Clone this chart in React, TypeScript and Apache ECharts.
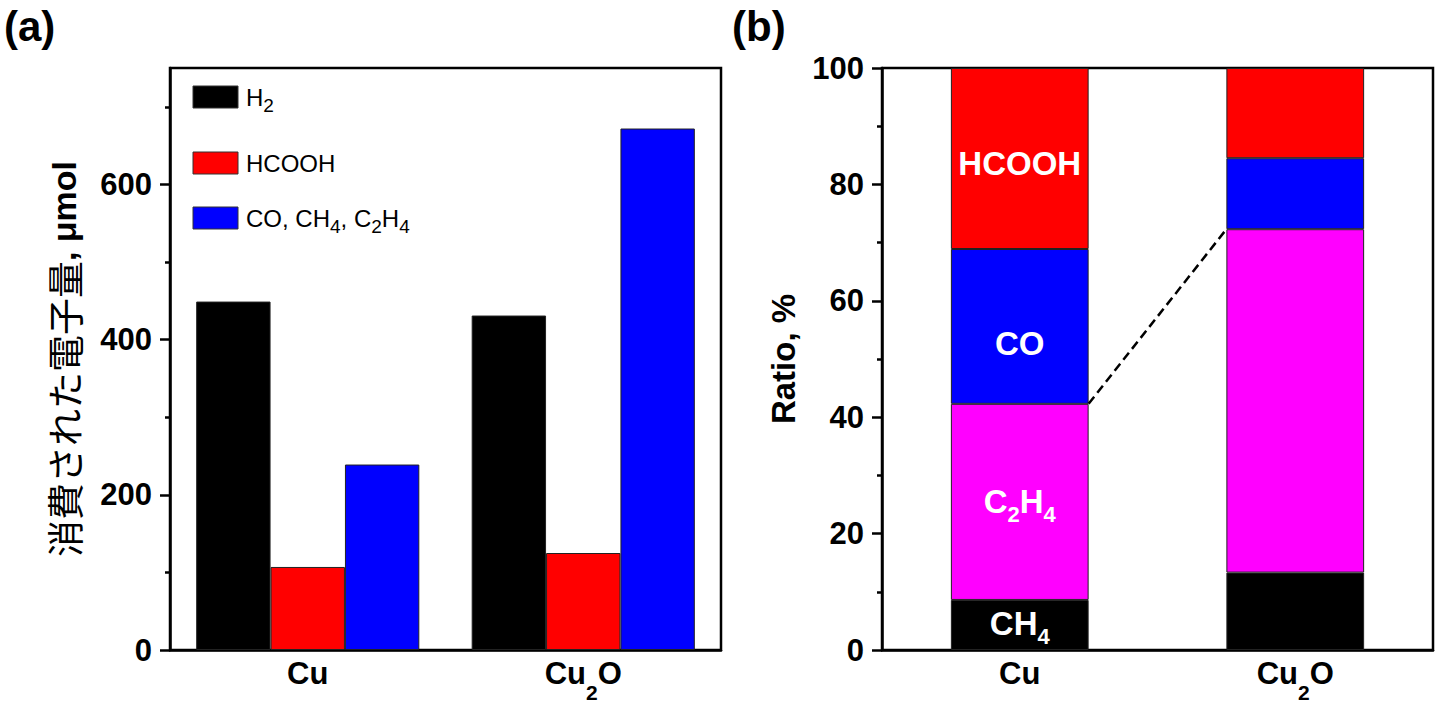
import { useRef, useEffect } from 'react'
import * as echarts from 'echarts'

// panel (a): consumed electrons, µmol
const categories = ['Cu', 'Cu2O']
const h2Values = [449, 431]
const hcoohValues = [107, 125]
const carbonValues = [239, 672]
const yMaxA = 750
const yMajorA = [0, 200, 400, 600]
const yMinorA = [100, 300, 500, 700]

// panel (b): product ratio, %
const ratioCH4 = [8.6, 13.3]
const ratioC2H4 = [33.7, 59.0]
const ratioCO = [26.6, 12.2]
const ratioHCOOH = [31.1, 15.5]
const cuLabels = ['{b|CH}{s|4}', '{b|C}{s|2}{b|H}{s|4}', '{b|CO}', '{b|HCOOH}']
const cuLabelOffsets = [[0, 2], [0, 3], [0, 18], [0, 6]]

const NUM_FONT = "'Liberation Sans', Arial, sans-serif"
const BLACK = '#000000'
const RED = '#ff0000'
const BLUE = '#0000ff'
const MAGENTA = '#ff00ff'
const AXIS_W = 2.5

// rich text with a lowered subscript: the main text sits at the top of the line,
// the subscript at the bottom of a taller line, `drop` px below the main centre
function subRich(main: number, sub: number, drop: number, color: string, weight: 'bold' | 'normal', colorKey: 'color' | 'fill') {
  const base = { fontWeight: weight, fontFamily: NUM_FONT, [colorKey]: color }
  return {
    b: { ...base, fontSize: main, lineHeight: main + 2, verticalAlign: 'top' },
    n: { ...base, fontSize: main, lineHeight: main + 2, verticalAlign: 'top' },
    s: { ...base, fontSize: sub, lineHeight: drop + (main + sub) / 2, verticalAlign: 'bottom' },
  }
}

function catLabel(v: string) {
  return v === 'Cu2O' ? '{b|Cu}{s|2}{b|O}' : '{b|Cu}'
}

function buildOption(): echarts.EChartsOption {
  const frame = { show: true, borderColor: BLACK, borderWidth: AXIS_W, backgroundColor: 'transparent' }
  const xCat = (gridIndex: number) => ({
    type: 'category' as const,
    gridIndex,
    data: categories,
    axisLine: { show: true, lineStyle: { color: BLACK, width: AXIS_W } },
    axisTick: { show: false },
    axisLabel: { margin: 8, formatter: catLabel, rich: subRich(31, 21, 19, BLACK, 'bold', 'color') },
  })
  const barBase = { type: 'bar' as const, itemStyle: { borderColor: '#222', borderWidth: 1 } }

  const cuTop = [ratioCH4, ratioC2H4, ratioCO, ratioHCOOH]
  const stackSeries = ['CH4', 'C2H4', 'CO', 'HCOOH'].map((name, i) => ({
    ...barBase,
    name,
    xAxisIndex: 1,
    yAxisIndex: 2,
    stack: 'ratio',
    barWidth: '50%',
    itemStyle: { ...barBase.itemStyle, color: [BLACK, MAGENTA, BLUE, RED][i] },
    label: { show: false, color: '#fff', rich: subRich(33, 22, 13, '#fff', 'bold', 'color') },
    data: cuTop[i].map((v, j) =>
      j === 0
        ? { value: v, label: { show: true, position: 'inside' as const, formatter: cuLabels[i], offset: cuLabelOffsets[i] } }
        : v,
    ),
  }))

  const cuC2H4Top = ratioCH4[0] + ratioC2H4[0]
  const cu2oC2H4Top = ratioCH4[1] + ratioC2H4[1]
  const legendRich = subRich(24, 19, 8, BLACK, 'normal', 'fill')

  return {
    animation: false,
    backgroundColor: '#ffffff',
    grid: [
      { left: 170, top: 68, width: 551, height: 583, ...frame },
      { left: 882, top: 68, width: 551, height: 583, ...frame },
    ],
    xAxis: [
      xCat(0),
      xCat(1),
      { type: 'value', gridIndex: 1, min: 0, max: 2, show: false },
    ],
    yAxis: [
      {
        type: 'value',
        gridIndex: 0,
        position: 'left',
        min: 0,
        max: yMaxA,
        axisLine: { show: true, lineStyle: { color: BLACK, width: AXIS_W } },
        axisTick: { show: true, length: 10, customValues: yMajorA, lineStyle: { color: BLACK, width: AXIS_W } },
        axisLabel: {
          customValues: yMajorA,
          margin: 18,
          fontSize: 31,
          fontWeight: 'bold',
          fontFamily: NUM_FONT,
          color: BLACK,
        },
        splitLine: { show: false },
        name: '{j|消費された電子量}{u|, μmol}',
        nameLocation: 'middle',
        nameGap: 88,
        nameRotate: 90,
        nameTextStyle: {
          rich: {
            j: { fontSize: 37, fontFamily: "'Noto Sans CJK JP', sans-serif", color: BLACK },
            u: { fontSize: 34, fontWeight: 'bold', fontFamily: NUM_FONT, color: BLACK },
          },
        },
      },
      {
        type: 'value',
        gridIndex: 0,
        position: 'left',
        offset: 0,
        min: 0,
        max: yMaxA,
        axisLine: { show: false },
        axisTick: { show: true, length: 5, customValues: yMinorA, lineStyle: { color: BLACK, width: AXIS_W } },
        axisLabel: { show: false },
        splitLine: { show: false },
      },
      {
        type: 'value',
        gridIndex: 1,
        position: 'left',
        min: 0,
        max: 100,
        interval: 20,
        axisLine: { show: true, lineStyle: { color: BLACK, width: AXIS_W } },
        axisTick: { show: true, length: 10, lineStyle: { color: BLACK, width: AXIS_W } },
        minorTick: { show: true, splitNumber: 2, length: 5, lineStyle: { color: BLACK, width: AXIS_W } },
        axisLabel: { margin: 18, fontSize: 31, fontWeight: 'bold', fontFamily: NUM_FONT, color: BLACK },
        splitLine: { show: false },
        name: 'Ratio, %',
        nameLocation: 'middle',
        nameGap: 82,
        nameRotate: 90,
        nameTextStyle: { fontSize: 33, fontWeight: 'bold', fontFamily: NUM_FONT, color: BLACK },
      },
    ],
    series: [
      { ...barBase, name: 'H2', xAxisIndex: 0, yAxisIndex: 0, barGap: '0%', barCategoryGap: '19%', itemStyle: { ...barBase.itemStyle, color: BLACK }, data: h2Values },
      { ...barBase, name: 'HCOOH', xAxisIndex: 0, yAxisIndex: 0, barGap: '0%', barCategoryGap: '19%', itemStyle: { ...barBase.itemStyle, color: RED }, data: hcoohValues },
      { ...barBase, name: 'CO, CH4, C2H4', xAxisIndex: 0, yAxisIndex: 0, barGap: '0%', barCategoryGap: '19%', itemStyle: { ...barBase.itemStyle, color: BLUE }, data: carbonValues },
      ...stackSeries,
      {
        type: 'line',
        name: 'link',
        xAxisIndex: 2,
        yAxisIndex: 2,
        symbol: 'none',
        z: 5,
        lineStyle: { color: BLACK, width: 2.5, type: [9, 5] },
        data: [
          [0.75, cuC2H4Top],
          [1.25, cu2oC2H4Top],
        ],
      },
    ],
    graphic: [
      { type: 'text', x: 4, y: 5, style: { text: '(a)', fontSize: 42, fontWeight: 'bold', fontFamily: NUM_FONT, fill: BLACK } },
      { type: 'text', x: 732, y: 5, style: { text: '(b)', fontSize: 42, fontWeight: 'bold', fontFamily: NUM_FONT, fill: BLACK } },
      // legend for panel (a)
      ...[
        { top: 86, color: BLACK, text: '{n|H}{s|2}' },
        { top: 152, color: RED, text: '{n|HCOOH}' },
        { top: 207, color: BLUE, text: '{n|CO, CH}{s|4}{n|, C}{s|2}{n|H}{s|4}' },
      ].flatMap((it) => [
        {
          type: 'rect' as const,
          shape: { x: 193, y: it.top, width: 45, height: 22 },
          style: { fill: it.color, stroke: '#333', lineWidth: 1 },
        },
        {
          type: 'text' as const,
          x: 246,
          y: it.top + 11 - 12,
          style: { text: it.text, verticalAlign: 'top' as const, rich: legendRich },
        },
      ]),
    ],
  }
}

export default function App() {
  const ref = useRef<HTMLDivElement>(null)

  useEffect(() => {
    const el = ref.current
    if (!el) return
    const chart = echarts.init(el, null, { renderer: 'svg' })
    chart.setOption(buildOption())
    return () => chart.dispose()
  }, [])

  return (
    <div
      ref={ref}
      style={{ position: 'absolute', left: 0, top: 0, width: 1440, height: 703, background: '#fff' }}
    />
  )
}
